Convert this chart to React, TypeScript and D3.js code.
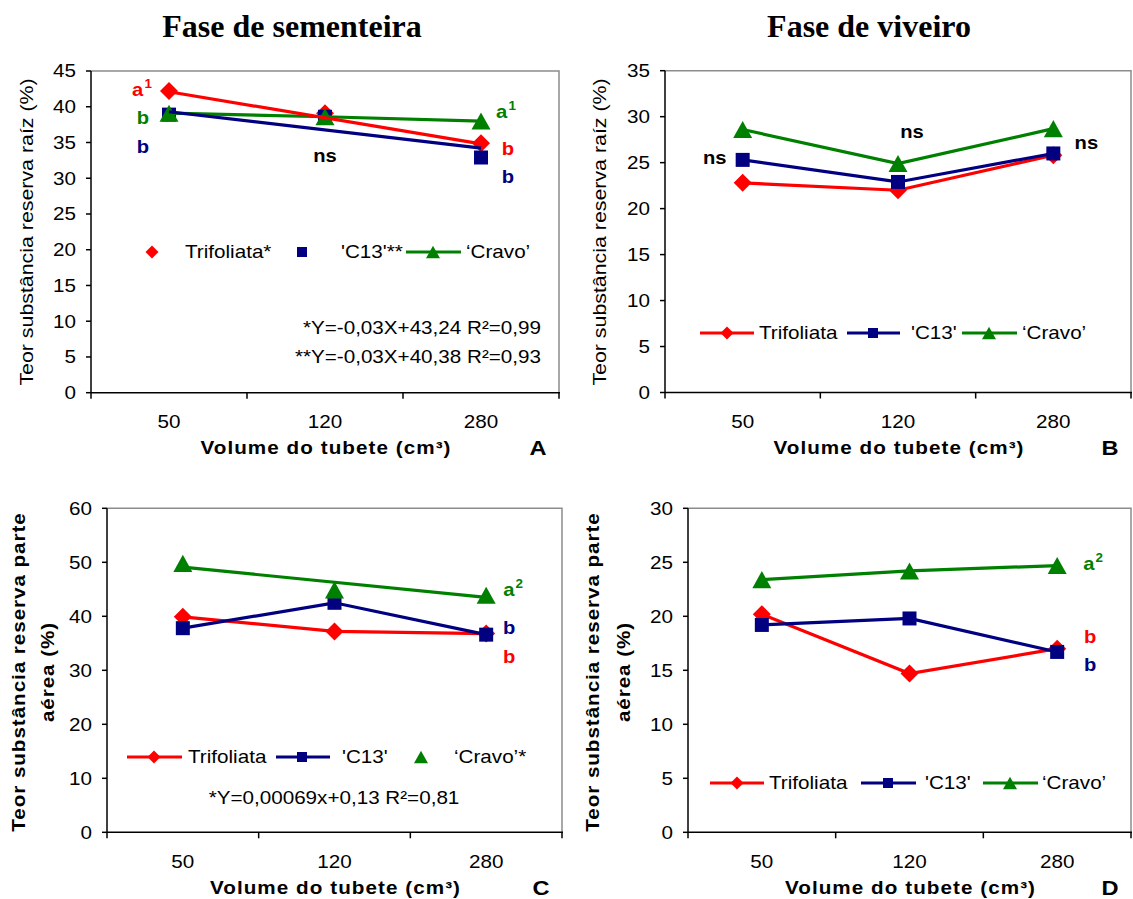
import React from "react";
import * as d3 from "d3";

// Tube volumes (cm³) on the category axis
const volumes = ["50", "120", "280"];

// Fase de sementeira – reserva na raiz (%)
const seedRootTrifoliata = [42.2, 39.1, 34.9];
const seedRootC13 = [38.9, 38.6, 32.9];
const seedRootCravo = [39.1, 38.6, 38.0];
// fitted trend values at 50 and 280 cm³
const seedRootTrifoliataFit = [42.1, 34.8];
const seedRootC13Fit = [39.3, 34.2];

// Fase de viveiro – reserva na raiz (%)
const nurseryRootTrifoliata = [22.8, 22.0, 25.8];
const nurseryRootC13 = [25.3, 22.9, 26.0];
const nurseryRootCravo = [28.6, 24.9, 28.7];

// Fase de sementeira – reserva na parte aérea (%)
const seedShootTrifoliata = [39.9, 37.2, 36.8];
const seedShootC13 = [37.8, 42.5, 36.6];
const seedShootCravo = [49.8, 44.9, 43.9];
const seedShootCravoFit = [49.1, 43.5];

// Fase de viveiro – reserva na parte aérea (%)
const nurseryShootTrifoliata = [20.2, 14.7, 17.0];
const nurseryShootC13 = [19.2, 19.8, 16.7];
const nurseryShootCravo = [23.4, 24.2, 24.7];

// Y-axis tick labels
const ticksRootSeed = [0, 5, 10, 15, 20, 25, 30, 35, 40, 45];
const ticksRootNursery = [0, 5, 10, 15, 20, 25, 30, 35];
const ticksShootSeed = [0, 10, 20, 30, 40, 50, 60];
const ticksShootNursery = [0, 5, 10, 15, 20, 25, 30];

const RED = "#FF0000";
const NAVY = "#000080";
const GREEN = "#008000";
const SANS = "'Liberation Sans', Arial, sans-serif";
const SERIF = "'Liberation Serif', 'Times New Roman', serif";
const FS = 17.5; // base text size
const SX = 1.18; // horizontal glyph stretch

// Triangle centred on its bounding box
const symbolTri = {
  draw(ctx: any, size: number) {
    const w = Math.sqrt(size * 2.2);
    const h = w * 0.9;
    ctx.moveTo(0, -h / 2);
    ctx.lineTo(w / 2, h / 2);
    ctx.lineTo(-w / 2, h / 2);
    ctx.closePath();
  },
};

type Shape = "diamond" | "square" | "triangle";

function Marker({ shape, x, y, color, s }: { shape: Shape; x: number; y: number; color: string; s: number }) {
  if (shape === "diamond") {
    const d = d3.symbol(d3.symbolSquare, (s * s) / 2)() as string;
    return <path d={d} transform={`translate(${x},${y}) rotate(45)`} fill={color} />;
  }
  if (shape === "square") {
    const d = d3.symbol(d3.symbolSquare, s * s)() as string;
    return <path d={d} transform={`translate(${x},${y})`} fill={color} />;
  }
  const d = d3.symbol(symbolTri as any, (s * s) / 2.2)() as string;
  return <path d={d} transform={`translate(${x},${y})`} fill={color} />;
}

const markerSize: Record<Shape, number> = { diamond: 18, square: 14, triangle: 19 };
const legendSize: Record<Shape, number> = { diamond: 13, square: 10, triangle: 14 };

// Text placed at (x, y), vertically centred, with a horizontal stretch
function T(props: {
  x: number;
  y: number;
  size?: number;
  bold?: boolean;
  fill?: string;
  anchor?: "start" | "middle" | "end";
  sx?: number;
  ls?: number;
  rotate?: number;
  family?: string;
  children: React.ReactNode;
}) {
  const { x, y, size = FS, bold, fill = "#000", anchor = "start", sx = SX, ls = 0, rotate, family = SANS } = props;
  return (
    <text
      transform={`translate(${x},${y})${rotate ? ` rotate(${rotate})` : ""} scale(${sx},1)`}
      dy="0.36em"
      textAnchor={anchor}
      fontSize={size}
      fontWeight={bold ? "bold" : "normal"}
      fill={fill}
      fontFamily={family}
      letterSpacing={ls}
    >
      {props.children}
    </text>
  );
}

type Series = {
  color: string;
  shape: Shape;
  values: number[];
  line: boolean;
  fit?: number[];
};

type Note = { text: string; sup?: string; color: string; col: number; dx: number; v: number };
type LegendItem = { shape: Shape; color: string; label: string; x1?: number; x2?: number; mx: number; tx: number };

type PanelProps = {
  left: number;
  right: number;
  top: number;
  bottom: number;
  yMax: number;
  ticks: number[];
  series: Series[];
  notes: Note[];
  legendY: number;
  legend: LegendItem[];
  yTitle: string[];
  yTitleX: number[];
  yTitleBold: boolean;
  letter: string;
  equations?: { text: string; x: number; y: number; anchor: "start" | "middle" | "end" }[];
};

function Panel(p: PanelProps) {
  const x = d3.scaleBand<string>().domain(volumes).range([p.left, p.right]).paddingInner(0).paddingOuter(0);
  const y = d3.scaleLinear().domain([0, p.yMax]).range([p.bottom, p.top]);
  const cx = (i: number) => (x(volumes[i]) as number) + x.bandwidth() / 2;
  const line = d3
    .line<number>()
    .x((_, i) => cx(i))
    .y((v) => y(v));
  const fitLine = d3
    .line<number>()
    .x((_, i) => cx(i === 0 ? 0 : volumes.length - 1))
    .y((v) => y(v));
  const boundaries = [...volumes.map((v) => x(v) as number), p.right];
  const midY = 232 + (p.top > 300 ? 440 : 0);

  return (
    <g>
      {/* plot frame */}
      <path d={`M${p.left},${p.top}H${p.right}V${p.bottom}`} fill="none" stroke="#8c8c8c" strokeWidth={1.5} />
      <line x1={p.left} x2={p.right + 1} y1={p.bottom} y2={p.bottom} stroke="#000" strokeWidth={1.5} />
      <line x1={p.left} x2={p.left} y1={p.top} y2={p.bottom} stroke="#000" strokeWidth={1.5} />
      {p.ticks.map((t) => (
        <g key={t}>
          <line x1={p.left - 5} x2={p.left} y1={y(t)} y2={y(t)} stroke="#000" strokeWidth={1.5} />
          <T x={p.left - 15} y={y(t)} anchor="end">
            {t}
          </T>
        </g>
      ))}
      {boundaries.map((b, i) => (
        <line key={i} x1={b} x2={b} y1={p.bottom} y2={p.bottom + 6} stroke="#000" strokeWidth={1.5} />
      ))}
      {volumes.map((v, i) => (
        <T key={v} x={cx(i)} y={p.bottom + 29} anchor="middle">
          {v}
        </T>
      ))}
      <T x={(p.left + p.right) / 2 + 1} y={p.bottom + 55} anchor="middle" bold ls={0.9}>
        Volume do tubete (cm³)
      </T>
      <T x={p.right - 21} y={p.bottom + 55} anchor="middle" bold size={20}>
        {p.letter}
      </T>
      {p.yTitle.map((t, i) => (
        <T key={i} x={p.yTitleX[i]} y={midY} rotate={-90} anchor="middle" bold={p.yTitleBold} ls={p.yTitleBold ? 0.8 : 0} sx={p.yTitleBold ? 1.18 : 1.22}>
          {t}
        </T>
      ))}

      {/* series: connecting lines, markers, then fitted trends */}
      {p.series.map((s, k) => (
        <g key={k}>
          {s.line && <path d={line(s.values) as string} fill="none" stroke={s.color} strokeWidth={3.2} />}
          {s.values.map((v, i) => (
            <Marker key={i} shape={s.shape} x={cx(i)} y={y(v)} color={s.color} s={markerSize[s.shape]} />
          ))}
        </g>
      ))}
      {p.series
        .filter((s) => s.fit)
        .map((s, k) => (
          <path key={k} d={fitLine(s.fit as number[]) as string} fill="none" stroke={s.color} strokeWidth={3.2} />
        ))}

      {p.notes.map((n, i) => (
        <T key={i} x={cx(n.col) + n.dx} y={y(n.v)} anchor="middle" bold size={18} fill={n.color} sx={1.12}>
          {n.text}
          {n.sup && (
            <tspan fontSize={12} dy={-8} dx={1}>
              {n.sup}
            </tspan>
          )}
        </T>
      ))}

      {p.legend.map((l, i) => (
        <g key={i}>
          {l.x1 !== undefined && (
            <line x1={l.x1} x2={l.x2} y1={p.legendY} y2={p.legendY} stroke={l.color} strokeWidth={3.2} />
          )}
          <Marker shape={l.shape} x={l.mx} y={p.legendY} color={l.color} s={legendSize[l.shape]} />
          <T x={l.tx} y={p.legendY}>
            {l.label}
          </T>
        </g>
      ))}

      {(p.equations || []).map((e, i) => (
        <T key={i} x={e.x} y={e.y} anchor={e.anchor}>
          {e.text}
        </T>
      ))}
    </g>
  );
}

export default function App() {
  return (
    <svg
      width={1133}
      height={899}
      viewBox="0 0 1133 899"
      style={{ position: "absolute", left: 0, top: 0, background: "#fff" }}
    >
      <rect width={1133} height={899} fill="#fff" />
      <T x={292} y={25} anchor="middle" bold size={32} sx={1} family={SERIF}>
        Fase de sementeira
      </T>
      <T x={869} y={25} anchor="middle" bold size={32} sx={1} family={SERIF}>
        Fase de viveiro
      </T>

      <Panel
        left={91}
        right={559}
        top={71}
        bottom={392.7}
        yMax={45}
        ticks={ticksRootSeed}
        letter="A"
        yTitle={["Teor substância reserva raíz (%)"]}
        yTitleX={[27]}
        yTitleBold={false}
        series={[
          { color: RED, shape: "diamond", values: seedRootTrifoliata, line: false, fit: seedRootTrifoliataFit },
          { color: NAVY, shape: "square", values: seedRootC13, line: false, fit: seedRootC13Fit },
          { color: GREEN, shape: "triangle", values: seedRootCravo, line: true },
        ]}
        notes={[
          { text: "a", sup: "1", color: RED, col: 0, dx: -27, v: 42.4 },
          { text: "b", color: GREEN, col: 0, dx: -26, v: 38.5 },
          { text: "b", color: NAVY, col: 0, dx: -26, v: 34.5 },
          { text: "a", sup: "1", color: GREEN, col: 2, dx: 25, v: 39.3 },
          { text: "b", color: RED, col: 2, dx: 27, v: 34.2 },
          { text: "b", color: NAVY, col: 2, dx: 27, v: 30.2 },
          { text: "ns", color: "#000", col: 1, dx: 0, v: 33.2 },
        ]}
        legendY={252}
        legend={[
          { shape: "diamond", color: RED, label: "Trifoliata*", mx: 152, tx: 185 },
          { shape: "square", color: NAVY, label: "'C13'**", mx: 302, tx: 341 },
          { shape: "triangle", color: GREEN, label: "‘Cravo’", x1: 406, x2: 461, mx: 433, tx: 466 },
        ]}
        equations={[
          { text: "*Y=-0,03X+43,24 R²=0,99", x: 541, y: 328, anchor: "end" },
          { text: "**Y=-0,03X+40,38 R²=0,93", x: 541, y: 357, anchor: "end" },
        ]}
      />

      <Panel
        left={665}
        right={1131}
        top={70.7}
        bottom={392.5}
        yMax={35}
        ticks={ticksRootNursery}
        letter="B"
        yTitle={["Teor substância reserva raíz (%)"]}
        yTitleX={[600]}
        yTitleBold={false}
        series={[
          { color: RED, shape: "diamond", values: nurseryRootTrifoliata, line: true },
          { color: NAVY, shape: "square", values: nurseryRootC13, line: true },
          { color: GREEN, shape: "triangle", values: nurseryRootCravo, line: true },
        ]}
        notes={[
          { text: "ns", color: "#000", col: 0, dx: -28, v: 25.6 },
          { text: "ns", color: "#000", col: 1, dx: 14, v: 28.4 },
          { text: "ns", color: "#000", col: 2, dx: 33, v: 27.2 },
        ]}
        legendY={333}
        legend={[
          { shape: "diamond", color: RED, label: "Trifoliata", x1: 700, x2: 754, mx: 727, tx: 759 },
          { shape: "square", color: NAVY, label: "'C13'", x1: 847, x2: 900, mx: 873, tx: 911 },
          { shape: "triangle", color: GREEN, label: "‘Cravo’", x1: 962, x2: 1017, mx: 989, tx: 1022 },
        ]}
      />

      <Panel
        left={107}
        right={562}
        top={508.3}
        bottom={832.3}
        yMax={60}
        ticks={ticksShootSeed}
        letter="C"
        yTitle={["Teor substância reserva parte", "aérea (%)"]}
        yTitleX={[19, 48]}
        yTitleBold={true}
        series={[
          { color: RED, shape: "diamond", values: seedShootTrifoliata, line: true },
          { color: NAVY, shape: "square", values: seedShootC13, line: true },
          { color: GREEN, shape: "triangle", values: seedShootCravo, line: false, fit: seedShootCravoFit },
        ]}
        notes={[
          { text: "a", sup: "2", color: GREEN, col: 2, dx: 27, v: 44.9 },
          { text: "b", color: NAVY, col: 2, dx: 23, v: 38.0 },
          { text: "b", color: RED, col: 2, dx: 23, v: 32.6 },
        ]}
        legendY={757}
        legend={[
          { shape: "diamond", color: RED, label: "Trifoliata", x1: 127, x2: 182, mx: 154, tx: 188 },
          { shape: "square", color: NAVY, label: "'C13'", x1: 276, x2: 330, mx: 302, tx: 342 },
          { shape: "triangle", color: GREEN, label: "‘Cravo’*", mx: 421, tx: 454 },
        ]}
        equations={[{ text: "*Y=0,00069x+0,13 R²=0,81", x: 334, y: 798, anchor: "middle" }]}
      />

      <Panel
        left={688}
        right={1131}
        top={508.3}
        bottom={832.3}
        yMax={30}
        ticks={ticksShootNursery}
        letter="D"
        yTitle={["Teor substância reserva parte", "aérea (%)"]}
        yTitleX={[593, 624]}
        yTitleBold={true}
        series={[
          { color: RED, shape: "diamond", values: nurseryShootTrifoliata, line: true },
          { color: NAVY, shape: "square", values: nurseryShootC13, line: true },
          { color: GREEN, shape: "triangle", values: nurseryShootCravo, line: true },
        ]}
        notes={[
          { text: "a", sup: "2", color: GREEN, col: 2, dx: 36, v: 24.9 },
          { text: "b", color: RED, col: 2, dx: 33, v: 18.1 },
          { text: "b", color: NAVY, col: 2, dx: 33, v: 15.5 },
        ]}
        legendY={783}
        legend={[
          { shape: "diamond", color: RED, label: "Trifoliata", x1: 710, x2: 764, mx: 737, tx: 769 },
          { shape: "square", color: NAVY, label: "'C13'", x1: 861, x2: 916, mx: 888, tx: 925 },
          { shape: "triangle", color: GREEN, label: "‘Cravo’", x1: 983, x2: 1038, mx: 1010, tx: 1042 },
        ]}
      />
    </svg>
  );
}
